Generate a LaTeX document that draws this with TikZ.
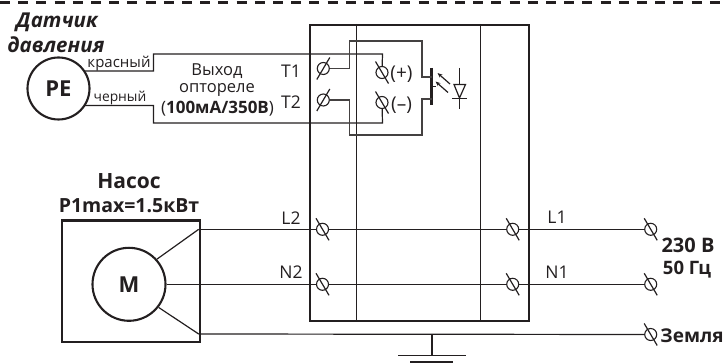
\documentclass[tikz,border=0pt]{standalone}
\usepackage{fontspec}
\usetikzlibrary{arrows.meta}
\setmainfont{Open Sans}
\definecolor{ink}{HTML}{231F20}
\newcommand{\fs}[1]{\fontsize{#1}{#1}\selectfont}
\newcommand{\slashR}[1]{\draw[wire] ([shift={(-6.5,11)}]#1.center) -- ([shift={(6.5,-11)}]#1.center);}
\newcommand{\slashL}[1]{\draw[wire] ([shift={(-6.5,-11)}]#1.center) -- ([shift={(6.5,11)}]#1.center);}
\tikzset{
 x=1pt,y=-1pt,
 wire/.style={draw=ink,line width=1.2pt},
 wirepair/.style={draw=ink!85,line width=1.4pt},
 heavy/.style={draw=ink,line width=2.4pt},
 term/.style={circle,draw=ink,line width=1.1pt,minimum size=12pt,inner sep=0pt,fill=none},
 lab/.style={text=ink,inner sep=0pt,align=center},
 norm/.style={lab,font=\fs{16.5}},
 small/.style={lab,font=\fs{15}},
 tag/.style={lab,font=\fs{17.5}},
}
\begin{document}
\begin{tikzpicture}
\useasboundingbox (0,0) rectangle (725,363);
\coordinate (dl) at (0,2.5); \coordinate (dr) at (725,2.5);
\draw[ink,line width=2.3pt,dash pattern=on 10pt off 8.2pt] (dl) -- (dr);
% main box
\node[heavy,draw,minimum width=219.5pt,minimum height=296pt,inner sep=0pt,anchor=north west] (box) at (308.5,24) {};
\coordinate (v1t) at (356.7,24); \coordinate (v1b) at (356.7,320);
\coordinate (v2t) at (480.7,24); \coordinate (v2b) at (480.7,320);
\draw[wire] (v1t) -- (v1b);
\draw[wire] (v2t) -- (v2b);
% PE
\node[circle,draw=ink,line width=2.1pt,minimum size=62pt,inner sep=0pt,text=ink,font=\fs{22}\bfseries] (pe) at (58.5,88.5) {PE};
% terminals
\node[term] (t1) at (323.3,68.5) {}; \slashR{t1}
\node[term] (t2) at (323.3,100) {}; \slashR{t2}
\node[term] (tp) at (382,72.5) {}; \slashL{tp}
\node[term] (tm) at (382,102.5) {}; \slashL{tm}
\node[term] (l2) at (322.5,229.3) {}; \slashL{l2}
\node[term] (n2) at (322.5,284.3) {}; \slashL{n2}
\node[term] (l1r) at (512.7,229.3) {}; \slashL{l1r}
\node[term] (n1r) at (512.7,284.3) {}; \slashL{n1r}
\node[term] (l1o) at (650.7,229.3) {}; \slashL{l1o}
\node[term] (n1o) at (650.7,284.3) {}; \slashL{n1o}
\node[term] (eo) at (650.7,334.5) {}; \slashL{eo}
% sensor wires
\coordinate (peA) at (84,71); \coordinate (peB) at (85,105.5);
\draw[wire] (peA) -- (153.5,71) -- (153.5,54) -- (382.5,54) -- (tp);
\draw[wire] (peB) -- (153.5,105.5) -- (153.5,123) -- (382.5,123) -- (tm);
% optorelay
\coordinate (bt) at (431.5,68); \coordinate (bb) at (431.5,105);
\draw[ink,line width=2.2pt] (bt) -- (bb);
\draw[wirepair] (t1) -- (349.5,68.5) -- (349.5,41) -- (422,41) -- (422,77) -- (431.5,77);
\draw[wirepair] (t2) -- (349.5,100) -- (349.5,135) -- (422,135) -- (422,99) -- (431.5,99);
\draw[wire] (432,86.5) -- (435.5,86.5);
\draw[wire,-{Stealth[length=5pt,width=4pt]}] (450,84) -- (437.5,73);
\draw[wire,-{Stealth[length=5pt,width=4pt]}] (448,92.5) -- (435.5,81.5);
\draw[wire] (459.5,68) -- (459.5,84.5);
\draw[wire] (454,84.5) -- (465.5,84.5) -- (459.5,98) -- cycle;
\draw[wire] (452,98.5) -- (466.5,98.5);
\draw[wire] (459.5,98.5) -- (459.5,109);
% motor
\node[heavy,draw,minimum width=137.7pt,minimum height=121.7pt,inner sep=0pt,anchor=north west] (mbox) at (61,219.3) {};
\node[circle,draw=ink,line width=2.1pt,minimum size=73pt,inner sep=0pt,text=ink,font=\fs{22}\bfseries] (m) at (129,284.3) {M};
\coordinate (mL) at (198.7,229.3); \coordinate (mE) at (198.7,334);
\draw[wire] (mL) -- (m.42);
\draw[wire] (mE) -- (m.-38);
\draw[wire] (mL) -- (l2);
\draw[wire] (m.east) -- (n2);
\draw[wire] (l2) -- (l1r);
\draw[wire] (n2) -- (n1r);
\draw[wire] (l1r) -- (l1o);
\draw[wire] (n1r) -- (n1o);
\draw[wire] (mE) -- (eo);
% ground
\coordinate (g0) at (432,334); \coordinate (g1) at (432,355.5);
\draw[wire] (g0) -- (g1);
\coordinate (g1a) at (398,355.5); \coordinate (g1b) at (466,355.5);
\coordinate (g2a) at (410,362); \coordinate (g2b) at (453,362);
\draw[wire] (g1a) -- (g1b);
\draw[wire] (g2a) -- (g2b);
% text
\node[lab,font=\fs{20.5}\bfseries\itshape] (d1) at (57,22) {Датчик};
\node[lab,font=\fs{20.5}\bfseries\itshape] (d2) at (56,45) {давления};
\node[small] (kr) at (119,64) {красный};
\node[small,font=\fs{13.8}] (ch) at (120,98) {черный};
\node[norm] (v1) at (217,71.5) {Выход};
\node[norm] (v2) at (217,90) {оптореле};
\node[norm,font=\fs{17}] (v3) at (217.5,108.5) {(\textbf{100мА/350В})};
\node[tag] (lt1) at (291,71) {T1};
\node[tag] (lt2) at (291,102.5) {T2};
\node[tag,font=\fs{19}] (lp) at (401.5,74) {(+)};
\node[tag,font=\fs{19}] (lm) at (401.5,105) {(–)};
\node[lab,font=\fs{21}\bfseries] (na) at (129,181) {Насос};
\node[lab,font=\fs{19.5}\bfseries] (p1) at (129,206) {P1max=1.5кВт};
\node[tag] (tl2) at (291,218) {L2};
\node[tag] (tn2) at (291,272) {N2};
\node[tag] (tl1) at (557,217) {L1};
\node[tag] (tn1) at (557,272) {N1};
\node[lab,font=\fs{20}\bfseries] (u) at (688,245) {230 В};
\node[lab,font=\fs{18.5}\bfseries] (f) at (687,270) {50 Гц};
\node[lab,font=\fs{19}\bfseries] (ze) at (692,336) {Земля};
\end{tikzpicture}
\end{document}
